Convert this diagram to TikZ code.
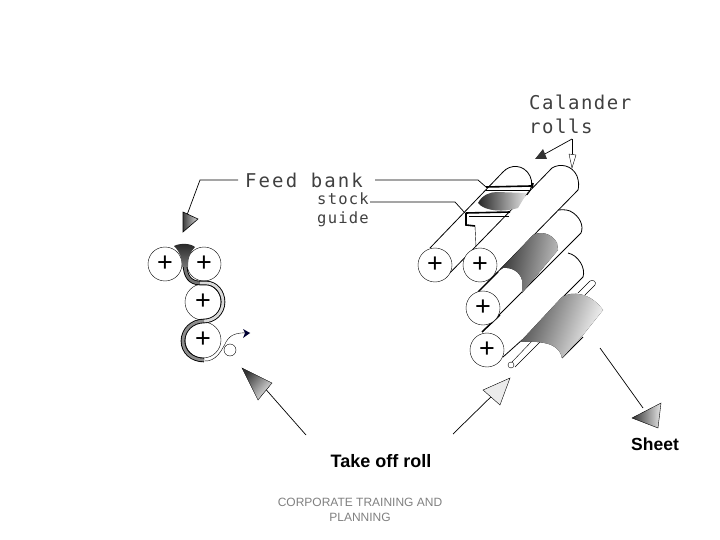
\documentclass[tikz,border=0pt]{standalone}
\usepackage{fontspec}
\setmainfont{Liberation Sans}
\newfontfamily\cadfont[LetterSpace=8]{DejaVu Sans Mono}
\newfontfamily\cadwide[LetterSpace=11]{DejaVu Sans Mono}
\usetikzlibrary{positioning}
\tikzset{
  rollcirc/.style={circle,draw,fill=white,inner sep=0pt,minimum size=34pt,font=\fontsize{27}{27}\selectfont},
  cadlabel/.style={inner sep=0pt,anchor=west,text=black!75,font=\fontsize{19}{24}\selectfont\cadfont},
  leader/.style={draw,line width=0.7pt},
  headdark/.style={draw,line width=0.6pt,left color=black!75,right color=black!15},
  guidebar/.style={draw=black,line width=1.6pt},
}
\begin{document}
\begin{tikzpicture}[x=1pt,y=-1pt]
\useasboundingbox (0,0) rectangle (720,540);
% back roll and front roll
\draw[thick] (430,248) -- (503,172) .. controls (510,164) and (524,164) .. (530,176) .. controls (533,182) and (532,190) .. (527,195);
\draw[thick] (445,278) -- (552,168) .. controls (560,163) and (572,165) .. (577,176) .. controls (579,182) and (579,186) .. (578,190) -- (478,292);
% second and third rolls
\draw[thick] (482,332) -- (581,233) .. controls (584,226) and (580,216) .. (570,211) .. controls (565,209) and (560,210) .. (558,210);
\draw[thick] (503,357) -- (522,340);
\draw[thick] (563,297) -- (583,277) .. controls (586,268) and (578,255) .. (568,253);
\draw[thick] (562,358) -- (583,337);
\draw[line width=1.4pt] (478,292) -- (498,272);
\draw[line width=1.4pt] (482,332) -- (500,315);
% take off roll
\node[circle,draw,inner sep=0pt,minimum size=6pt,fill=white] (takeroll) at (511,365) {};
\draw (512,362) -- (533,340);
\draw (515,367) -- (540,342);
\draw (578,293) -- (590,281) .. controls (593,279) and (597,282) .. (595,285) -- (585,295);
% shaded areas
\fill[left color=black!80,right color=black!25,shading angle=80] (500,270) -- (533,235) .. controls (540,231) and (552,233) .. (557,243) -- (558,250) -- (522,293) -- (522,280) .. controls (520,272) and (512,267) .. (503,268) -- cycle;
\fill[left color=black!70,right color=black!2,shading angle=70] (520,342) -- (562,297) .. controls (572,291) and (590,292) .. (603,310) -- (583,335) -- (562,358) .. controls (560,348) and (552,340) .. (520,342) -- cycle;
% feed bank on the rolls
\shade[left color=black!85,right color=black!10] (478,203) .. controls (482,195) and (490,192) .. (497,192) -- (527,193) -- (518,208) .. controls (505,212) and (485,212) .. (478,203) -- cycle;
% stock guides
\draw[guidebar] (486,187) -- (531,186);
\draw[line width=0.7pt] (486,190) -- (530,190);
\draw[guidebar] (533,183) -- (532,188);
\draw[guidebar] (466,213) -- (510,212);
\draw[line width=0.7pt] (469,216) -- (509,216);
\draw[guidebar] (466,213) -- (466,225) -- (475,226);
\draw (475,226) -- (476,247);
% calender roll ends
\node[rollcirc] (rollback) at (435,265) {+};
\node[rollcirc] (rolla) at (480,265) {+};
\node[rollcirc] (rollb) at (483,308) {+};
\node[rollcirc] (rollc) at (487,350) {+};
% left stack
\node[rollcirc] (stacka) at (165,264) {+};
\node[rollcirc] (stackb) at (204,264) {+};
\node[rollcirc,minimum size=36pt] (stackc) at (203,302) {+};
\node[rollcirc,minimum size=36pt] (stackd) at (203,340) {+};
% ribbon of stock
\draw[line width=4.6pt] (185,264) .. controls (185,276) and (190,283) .. (200,283) -- (206,283) .. controls (216,283) and (223,292) .. (223,302) .. controls (223,313) and (214,321) .. (204,321) .. controls (192,321) and (183,330) .. (183,341) .. controls (183,352) and (192,360) .. (204,360);
\draw[line width=2.8pt,black!55] (185,264) .. controls (185,276) and (190,283) .. (200,283);
\draw[line width=2.8pt,black!15] (200,283) -- (206,283) .. controls (216,283) and (223,292) .. (223,302) .. controls (223,313) and (214,321) .. (204,321);
\draw[line width=2.8pt,black!45] (204,321) .. controls (192,321) and (183,330) .. (183,341) .. controls (183,352) and (192,360) .. (204,360);
\shade[top color=black!85,bottom color=black!55] (174,246) .. controls (180,243) and (190,243) .. (195,247) .. controls (190,252) and (188,258) .. (188,267) -- (182,267) .. controls (182,258) and (180,252) .. (174,246) -- cycle;
\node[circle,draw,inner sep=0pt,minimum size=12pt] (smallroll) at (230,350) {};
\coordinate (ribbonend) at (204,361);
\coordinate (ribbontip) at (250,333);
\draw (ribbonend) .. controls (216,362) and (222,350) .. (226,342) .. controls (230,335) and (236,332) .. (ribbontip);
\fill[black!80!blue] (250,333) -- (243,329) -- (245,333) -- (243,338) -- cycle;
% labels
\node[cadlabel,font=\fontsize{19}{24}\selectfont\cadwide] (feedbank) at (245,180) {Feed bank};
\node[cadlabel,font=\fontsize{15.5}{19}\selectfont\cadfont] (stockguide) at (317,210) [align=left] {stock\\guide};
\node[cadlabel] (calander) at (529,114) [align=left] {Calander\\rolls};
\node[font=\fontsize{18}{20}\selectfont\bfseries] (takeoff) at (381,461) {Take off roll};
\node[font=\fontsize{17.5}{18}\selectfont\bfseries] (sheet) at (655,444) {Sheet};
\node[font=\fontsize{12}{14.5}\selectfont,text=black!50,align=center] (corporate) at (360,510) {CORPORATE TRAINING AND\\PLANNING};
% leader lines
\coordinate (feedtip) at (187,215);
\coordinate (feedturn) at (200,180);
\draw[leader] (238,180) -- (feedturn) -- (feedtip);
\draw[headdark] (183,232) -- (183,212) -- (198,219) -- cycle;
\coordinate (bankturn) at (478,180);
\coordinate (bankend) at (486,187);
\draw[leader] (375,180) -- (bankturn) -- (bankend);
\coordinate (guideturn) at (455,202);
\coordinate (guideend) at (465,213);
\draw[leader] (370,202) -- (guideturn) -- (guideend);
\coordinate (calfork) at (572,139);
\draw[leader] (calfork) -- (543,155);
\draw[leader] (calfork) -- (572,155);
\fill[black!80] (535,159) -- (543,149) -- (547,159) -- cycle;
\draw[fill=white] (572,168) -- (569,154) -- (576,155) -- cycle;
\coordinate (stackarrow) at (306,435);
\draw[leader] (stackarrow) -- (262,385);
\draw[left color=black!80,right color=black!10,shading angle=50] (242,368) -- (272,383) -- (258,400) -- cycle;
\coordinate (takearrow) at (453,434);
\draw[leader] (takearrow) -- (500,388);
\draw[fill=black!8] (510,378) -- (483,390) -- (500,405) -- cycle;
\coordinate (sheetstart) at (600,348);
\draw[leader] (sheetstart) -- (643,408);
\draw[left color=black!80,right color=black!10] (632,418) -- (661,403) -- (658,428) -- cycle;
\end{tikzpicture}
\end{document}
